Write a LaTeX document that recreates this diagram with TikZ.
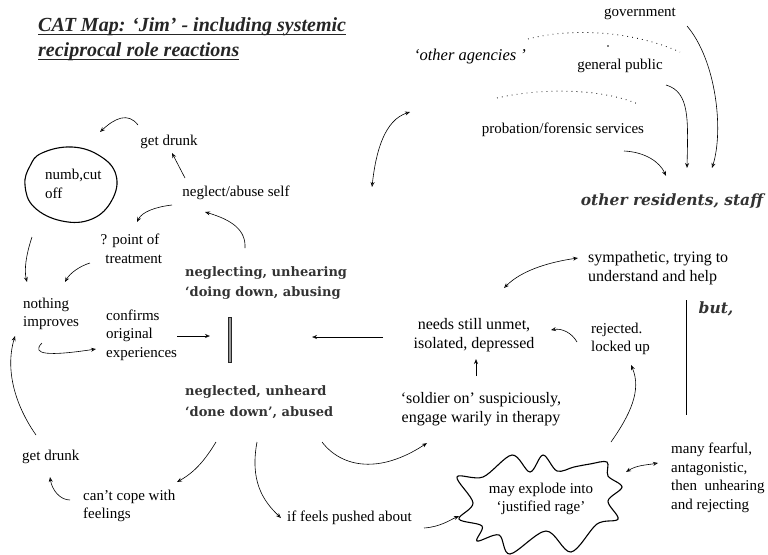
\documentclass[tikz,border=0pt]{standalone}
\usepackage{fontspec}
\setmainfont{Liberation Serif}
\newfontfamily\slabfont{DejaVu Serif}
\usetikzlibrary{arrows.meta}
\begin{document}
\begin{tikzpicture}[x=1pt,y=-1pt,
  txt/.style={font=\fontsize{15}{18.5}\selectfont, align=left, inner sep=0pt},
  ctxt/.style={font=\fontsize{15}{18.5}\selectfont, align=center, inner sep=0pt},
  btxt/.style={font=\fontsize{16}{18.5}\selectfont, align=center, inner sep=0pt},
  ital/.style={font=\itshape\fontsize{16.5}{18}\selectfont, inner sep=0pt},
  bital/.style={font=\slabfont\bfseries\itshape\fontsize{15.5}{18}\selectfont, inner sep=0pt, text=black!80},
  bld/.style={font=\slabfont\bfseries\fontsize{13}{20.5}\selectfont, align=left, inner sep=0pt, text=black!80},
  ttl/.style={font=\bfseries\itshape\fontsize{20}{22}\selectfont, inner sep=0pt, text=black!85},
  arr/.style={line width=0.6pt, -{Stealth[open,length=5pt,width=4pt]}},
  darr/.style={line width=0.6pt, {Stealth[open,length=5pt,width=4pt]}-{Stealth[open,length=5pt,width=4pt]}},
  dots/.style={line width=0.8pt, dash pattern=on 0.8pt off 4.2pt},
  blob/.style={line width=1.1pt}]
\useasboundingbox (0,0) rectangle (768,554);

% title
\node[ttl, anchor=base west] (t1) at (38,31) {CAT Map: ‘Jim’ - including systemic};
\node[ttl, anchor=base west] (t2) at (38,56) {reciprocal role reactions};
\draw[line width=1.1pt, black!85] ([yshift=-3.5pt]t1.base west) -- ([yshift=-3.5pt]t1.base east);
\draw[line width=1.1pt, black!85] ([yshift=-3.5pt]t2.base west) -- ([yshift=-3.5pt]t2.base east);

% upper right
\node[txt] (gov) at (640,14) {government};
\node[ital] (oa) at (470,57) {‘other agencies ’};
\node[txt] (gp) at (620,66) {general public};
\node[txt] (pfs) at (563,130) {probation/forensic services};
\node[bital] (ors) at (672,201) {other residents, staff};
\node[btxt, anchor=west, align=left] (sym) at (588,268) {sympathetic, trying to\\understand and help};
\node[bital] (but) at (716,309) {but,};
\coordinate (vlt) at (686,300);
\coordinate (vlb) at (686,415);
\draw[line width=0.9pt] (vlt) -- (vlb);
\node[txt, anchor=west] (rej) at (591,339) {rejected.\\locked up};
\node[btxt] (needs) at (474,335) {needs still unmet,\\isolated, depressed};
\node[btxt] (sold) at (481,409) {‘soldier on’ suspiciously,\\engage warily in therapy};
\node[txt, anchor=west] (fear) at (671,478) {many fearful,\\antagonistic,\\then\ \ unhearing\\and rejecting};
\node[ctxt] (rage) at (541,499) {may explode into\\‘justified rage’};

% centre
\node[bld, anchor=west] (ing) at (185,283) {neglecting, unhearing\\‘doing down, abusing};
\node[bld, anchor=west] (ed) at (185,402) {neglected, unheard\\‘done down’, abused};
\coordinate (bart) at (228.6,317);
\coordinate (barb) at (231.4,362);
\filldraw[fill=black!40, draw=black!85, line width=0.5pt] (bart) rectangle (barb);

% left
\node[ctxt] (gd1) at (169,142) {get drunk};
\node[ctxt] (nas) at (236,193) {neglect/abuse self};
\node[txt, anchor=west] (numb) at (45,184) {numb,cut\\off};
\node[ctxt] (pot) at (130,249) {? point of\\\ \ treatment};
\node[txt, anchor=west] (noth) at (23,314) {nothing\\improves};
\node[txt, anchor=west] (conf) at (106,335) {confirms\\original\\experiences};
\node[txt, anchor=west] (gd2) at (22,457) {get drunk};
\node[txt, anchor=west] (cc) at (83,506) {can’t cope with\\feelings};
\node[txt, anchor=west] (push) at (287,518) {if feels pushed about};

% blobs
\draw[blob] plot[smooth cycle, tension=0.7] coordinates {
  (42,153) (72,147) (100,156) (116,175) (112,200) (92,219) (62,221) (34,207) (25,185) (30,166)};
\draw[blob] plot[smooth cycle, tension=0.55] coordinates {
  (459,519) (473,503) (457,477) (483,477) (512,455) (530,472) (543,455) (557,471)
  (574,467) (590,464) (607,462) (608,476) (622,487) (608,501) (618,519) (597,524)
  (571,552) (546,531) (510,554) (499,535) (477,541) (482,526)};

% dotted arcs
\draw[dots] (528,39) .. controls (570,28) and (630,30) .. (680,52);
\fill (608,46) circle (0.8pt);
\draw[dots] (497,98) .. controls (540,88) and (600,88) .. (638,104);

% connector end points
\coordinate (a1s) at (138,125); \coordinate (a1e) at (100,132);
\coordinate (a2s) at (185,178); \coordinate (a2e) at (172,153);
\coordinate (a3s) at (172,205); \coordinate (a3e) at (137,222);
\coordinate (a4s) at (245,248); \coordinate (a4e) at (205,212);
\coordinate (a5s) at (90,263);  \coordinate (a5e) at (65,282);
\coordinate (a6s) at (32,237);  \coordinate (a6e) at (27,282);
\coordinate (a7s) at (42,343);  \coordinate (a7e) at (96,349);
\coordinate (a8s) at (177,336); \coordinate (a8e) at (210,336);
\coordinate (a9s) at (383,337); \coordinate (a9e) at (312,337);
\coordinate (a10s) at (476,376); \coordinate (a10e) at (476,359);
\coordinate (a11s) at (322,442); \coordinate (a11e) at (427,443);
\coordinate (a12s) at (216,442); \coordinate (a12e) at (177,482);
\coordinate (a13s) at (70,500);  \coordinate (a13e) at (50,477);
\coordinate (a14s) at (36,435);  \coordinate (a14e) at (15,336);
\coordinate (a15s) at (257,442); \coordinate (a15e) at (281,518);
\coordinate (a16s) at (424,528); \coordinate (a16e) at (459,516);
\coordinate (a17s) at (611,442); \coordinate (a17e) at (631,365);
\coordinate (a18s) at (577,342); \coordinate (a18e) at (551,330);
\coordinate (a19s) at (626,472); \coordinate (a19e) at (658,463);
\coordinate (a20s) at (504,288); \coordinate (a20e) at (578,258);
\coordinate (a21s) at (372,187); \coordinate (a21e) at (410,112);
\coordinate (a22s) at (687,26);  \coordinate (a22e) at (712,168);
\coordinate (a23s) at (666,85);  \coordinate (a23e) at (687,168);
\coordinate (a24s) at (624,151); \coordinate (a24e) at (666,176);

% connectors
\draw[arr] (a1s) .. controls (128,112) and (115,118) .. (a1e);
\draw[arr] (a2s) -- (a2e);
\draw[arr] (a3s) .. controls (155,207) and (142,212) .. (a3e);
\draw[arr] (a4s) .. controls (246,230) and (232,220) .. (a4e);
\draw[arr] (a5s) .. controls (80,266) and (70,273) .. (a5e);
\draw[arr] (a6s) .. controls (26,255) and (24,270) .. (a6e);
\draw[arr] (a7s) .. controls (30,355) and (50,356) .. (a7e);
\draw[arr] (a8s) -- (a8e);
\draw[arr] (a9s) -- (a9e);
\draw[arr] (a10s) -- (a10e);
\draw[arr] (a11s) .. controls (342,468) and (380,474) .. (a11e);
\draw[arr] (a12s) .. controls (205,460) and (195,472) .. (a12e);
\draw[arr] (a13s) .. controls (60,500) and (52,490) .. (a13e);
\draw[arr] (a14s) .. controls (15,405) and (5,370) .. (a14e);
\draw[arr] (a15s) .. controls (250,480) and (262,500) .. (a15e);
\draw[arr] (a16s) .. controls (440,527) and (450,520) .. (a16e);
\draw[arr] (a17s) .. controls (630,415) and (642,390) .. (a17e);
\draw[arr] (a18s) .. controls (572,333) and (562,328) .. (a18e);
\draw[darr] (a19s) .. controls (637,465) and (647,465) .. (a19e);
\draw[darr] (a20s) .. controls (522,270) and (550,262) .. (a20e);
\draw[darr] (a21s) .. controls (376,150) and (385,120) .. (a21e);
\draw[arr] (a22s) .. controls (716,60) and (724,130) .. (a22e);
\draw[arr] (a23s) .. controls (690,92) and (688,120) .. (a23e);
\draw[arr] (a24s) .. controls (645,152) and (660,162) .. (a24e);
\end{tikzpicture}
\end{document}
